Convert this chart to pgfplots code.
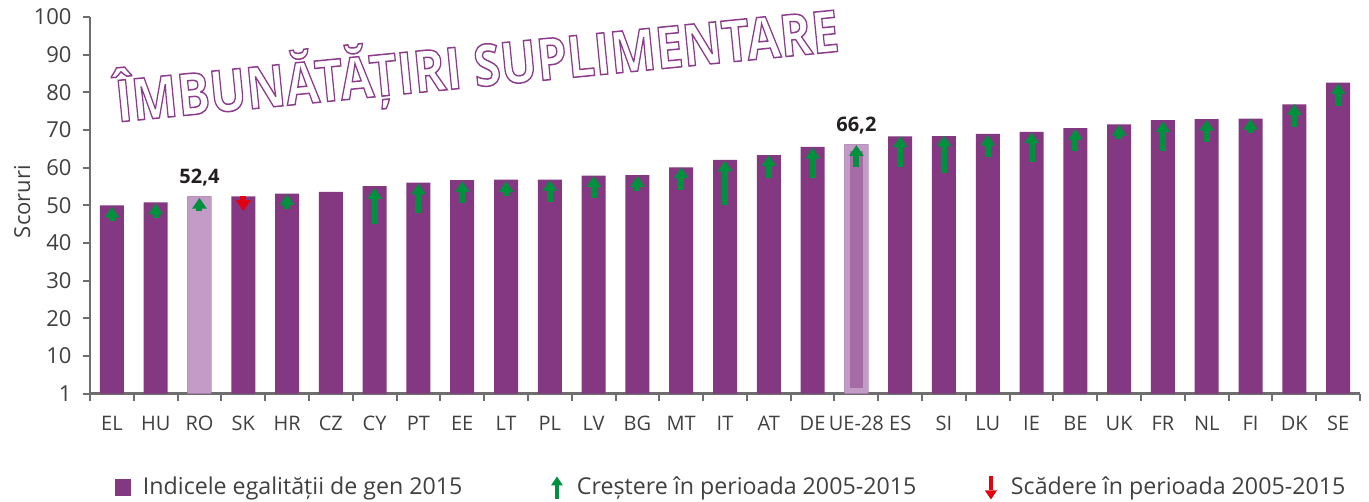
\documentclass[border=0pt]{standalone}
\usepackage{pgfplots}
\pgfplotsset{compat=1.18}
\usepackage{pgfplotstable}
\usepackage{fontspec}
\setmainfont{Open Sans}
\usepackage{graphicx}
\usetikzlibrary{arrows.meta,calc}
\definecolor{barcol}{RGB}{131,56,129}
\definecolor{lightbar}{RGB}{194,155,199}
\definecolor{innerbar}{RGB}{165,108,166}
\definecolor{arrowgreen}{RGB}{0,145,63}
\definecolor{arrowred}{RGB}{227,0,15}
\definecolor{axisgray}{RGB}{110,110,110}
\definecolor{ticktext}{RGB}{64,64,64}
\definecolor{labelcol}{RGB}{35,31,32}
\definecolor{titlecol}{RGB}{140,60,140}

\pgfplotstableread{
x y
0 50.0
1 50.8
2 52.4
3 52.4
4 53.1
5 53.6
6 55.1
7 56.0
8 56.7
9 56.8
10 56.8
11 57.9
12 58.0
13 60.1
14 62.1
15 63.3
16 65.5
17 66.2
18 68.3
19 68.4
20 69.0
21 69.5
22 70.5
23 71.5
24 72.6
25 72.9
26 73.0
27 76.8
28 82.6
}\gei

\pgfplotstableread{
x y lab
2 52.4 {52,4}
17 66.2 {66,2}
}\highlight

% green arrows: x, value 2005 (tail), change (to 2015 tip)
\pgfplotstableread{
x y dy
0 45.8 3.8
1 46.7 3.8
2 48.4 3.6
4 48.9 4.0
6 45.0 9.6
7 48.0 7.8
8 50.6 5.8
9 52.6 3.8
10 50.9 5.8
11 52.0 5.8
12 53.9 3.9
13 54.2 5.9
14 50.0 11.9
15 57.3 6.0
16 57.3 8.0
17 60.2 5.8
18 60.2 8.1
19 58.5 10.0
20 62.8 5.9
21 61.4 8.0
22 64.4 5.9
23 67.5 3.9
24 64.3 8.0
25 66.7 6.0
26 69.1 3.9
27 70.9 6.0
28 76.5 5.9
}\greenarrows

\pgfplotstableread{
x y dy
3 52.5 -4.0
}\redarrows

\begin{document}
\begin{tikzpicture}
\begin{axis}[
  name=ax,
  scale only axis,
  width=635pt, height=188.35pt,
  xmin=-0.5, xmax=28.5, ymin=0, ymax=100,
  axis lines=left,
  axis line style={-, draw=axisgray, line width=1.2pt},
  xtick={-0.5,0.5,...,28.5},
  x tick label as interval,
  xticklabels={EL,HU,RO,SK,HR,CZ,CY,PT,EE,LT,PL,LV,BG,MT,IT,AT,DE,UE-28,ES,SI,LU,IE,BE,UK,FR,NL,FI,DK,SE},
  ytick={0,10,...,100},
  yticklabels={1,10,20,30,40,50,60,70,80,90,100},
  tick align=outside,
  major tick length=3.7pt,
  tick style={draw=axisgray, line width=1pt},
  xticklabel style={font=\fontsize{10}{12}\selectfont, text=ticktext, yshift=-4pt},
  yticklabel style={font=\fontsize{11}{13}\selectfont, text=ticktext, xshift=-2pt},
  ylabel={Scoruri},
  every axis y label/.style={at={(axis description cs:-0.0535,0.51)}, rotate=90, anchor=center, font=\fontsize{11}{13}\selectfont, text=ticktext},
  clip=false,
  legend columns=3,
  legend cell align=left,
  legend style={at={(axis description cs:0.0181,-0.2503)}, anchor=west, draw=none, fill=none,
    inner sep=0pt, outer sep=0pt, nodes={inner sep=0pt},
    font=\fontsize{11.6}{13}\selectfont, text=ticktext,
    /tikz/column sep=0pt,
    /tikz/every odd column/.style={column sep=5pt}},
]
% main bars
\addplot[ybar, bar width=12pt, fill=barcol, draw=none,
  legend image code/.code={\path[draw=none,fill=none] (0pt,-5pt) rectangle (10pt,5pt); \fill[barcol, draw=none] (1pt,-4.25pt) rectangle (9pt,4.25pt);}]
  table[x=x,y=y] {\gei};
\addlegendentry{\makebox[202pt][l]{Indicele egalității de gen 2015}}
% highlighted bars (RO, UE-28)
\addplot[ybar, bar width=12pt, fill=lightbar, draw=none, forget plot,
  nodes near coords, point meta=explicit symbolic,
  every node near coord/.style={font=\bfseries\fontsize{10}{12}\selectfont, text=labelcol, anchor=south, yshift=1.5pt}]
  table[x=x,y=y,meta=lab] {\highlight};
% inner bar of UE-28
\addplot[fill=innerbar, draw=none, forget plot] coordinates {(16.85,1.5) (17.15,1.5) (17.15,64.4) (16.85,64.4)} -- cycle;
% green arrows
\addplot[arrowgreen, line width=3pt, -{Triangle[width=7pt,length=5.4pt]}, no markers,
  quiver={u=0, v=\thisrow{dy}},
  legend image code/.code={\path[draw=none,fill=none] (0pt,-5pt) rectangle (10pt,5pt);
     \fill[arrowgreen, draw=none] (4pt,-6pt) rectangle (6pt,1pt);
     \fill[arrowgreen, draw=none] (2pt,1pt) -- (8pt,1pt) -- (5pt,5.5pt) -- cycle;}]
  table[x=x,y=y] {\greenarrows};
\addlegendentry{\makebox[202pt][l]{Creștere în perioada 2005-2015}}
% red arrows
\addplot[arrowred, line width=3pt, -{Triangle[width=7pt,length=5.4pt]}, no markers,
  quiver={u=0, v=\thisrow{dy}},
  legend image code/.code={\path[draw=none,fill=none] (0pt,-5pt) rectangle (10pt,5pt);
     \fill[arrowred, draw=none] (4pt,5.5pt) rectangle (6pt,-1.5pt);
     \fill[arrowred, draw=none] (2pt,-1.5pt) -- (8pt,-1.5pt) -- (5pt,-6pt) -- cycle;}]
  table[x=x,y=y] {\redarrows};
\addlegendentry{Scădere în perioada 2005-2015}
% title (outlined text)
\node[rotate=5.6, anchor=center, inner sep=0pt, text=titlecol] at (axis cs:8.34,87)
  {\scalebox{0.835}[1]{\fontsize{29}{32}\selectfont\bfseries\color{titlecol}\special{pdf:literal direct 1 Tr 0.75 w}ÎMBUNĂTĂȚIRI SUPLIMENTARE\special{pdf:literal direct 0 Tr}}};
\end{axis}
\pgfresetboundingbox
\path[use as bounding box] ($(ax.south west)+(-45pt,-54.15pt)$) rectangle ($(ax.south west)+(639.5pt,196.85pt)$);
\end{tikzpicture}
\end{document}
